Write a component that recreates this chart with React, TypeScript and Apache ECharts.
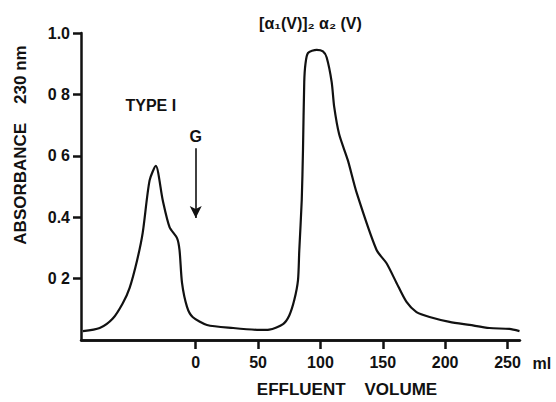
import React, { useEffect, useRef } from "react";
import * as echarts from "echarts";

// Elution profile: effluent volume (ml) vs absorbance at 230 nm
const volume = [
  -90.5, -77, -66.5, -58.5, -53, -47, -42.5, -37, -32, -26.5, -21, -15, -13, -11, -7, -2.5, 9, 30, 51,
  59, 70, 75, 79, 82, 83, 85, 86, 87, 88, 90, 97, 102, 105, 109, 111, 115, 122, 129, 145, 153, 161,
  169, 177, 187.5, 203.5, 219.5, 235.5, 251.5, 259.6,
];
const absorbance = [
  0.029, 0.039, 0.07, 0.12, 0.17, 0.26, 0.35, 0.52, 0.567, 0.456, 0.368, 0.332, 0.293, 0.186, 0.108,
  0.075, 0.049, 0.039, 0.033, 0.034, 0.052, 0.08, 0.13, 0.195, 0.29, 0.456, 0.62, 0.84, 0.9, 0.935,
  0.945, 0.94, 0.92, 0.84, 0.76, 0.67, 0.585, 0.48, 0.293, 0.25, 0.186, 0.124, 0.091, 0.075, 0.059,
  0.049, 0.039, 0.036, 0.029,
];

const xTicks = [0, 50, 100, 150, 200, 250];
const yTicks = [0.2, 0.4, 0.6, 0.8, 1.0];
const yTickLabels = ["0 2", "0.4", "0 6", "0 8", "1.0"];

// Void-volume marker "G" at 0 ml
const markerVolume = 0;
const markerTop = 0.625;
const markerBottom = 0.397;

const X_MIN = -92;
const X_MAX = 260;
const TICK_DEPTH = 0.029; // downward tick length in absorbance units (~9 px)
const FONT = "Liberation Sans";
const INK = "#111";

export default function App() {
  const ref = useRef<HTMLDivElement>(null);

  useEffect(() => {
    if (!ref.current) return;
    const chart = echarts.init(ref.current, undefined, { renderer: "svg" });
    const points = volume.map((v, i) => [v, absorbance[i]]);

    const labelFont = {
      color: INK,
      fontFamily: FONT,
      fontWeight: "bold" as const,
      fontSize: 16,
    };

    const axisStroke = { color: INK, width: 2.5, type: "solid" as const };
    const noLabel = { show: false };

    // baseline of the volume axis and its tick marks
    const baseline = [
      { coord: [X_MIN, 0], symbol: "none", lineStyle: axisStroke, label: noLabel },
      { coord: [X_MAX, 0], symbol: "none" },
    ];
    const tickMarks = xTicks.map((v) => [
      { coord: [v, 0], symbol: "none", lineStyle: axisStroke, label: noLabel },
      { coord: [v, -TICK_DEPTH], symbol: "none" },
    ]);

    chart.setOption({
      animation: false,
      backgroundColor: "#fff",
      grid: { left: 81, right: 36, top: 33, bottom: 62, containLabel: false },
      xAxis: [
        {
          type: "value",
          min: X_MIN,
          max: X_MAX,
          position: "bottom",
          axisLine: { show: false, onZero: false },
          axisTick: { show: false },
          axisLabel: { customValues: xTicks, margin: 14, ...labelFont },
          splitLine: { show: false },
        },
        {
          type: "value",
          min: X_MIN,
          max: X_MAX,
          position: "bottom",
          offset: 0,
          axisLine: { show: true, onZero: false, lineStyle: { color: INK, width: 2.5 } },
          axisTick: {
            show: true,
            customValues: xTicks,
            length: 9,
            lineStyle: { color: INK, width: 2.5 },
          },
          axisLabel: { show: false },
          splitLine: { show: false },
        },
      ],
      yAxis: {
        type: "value",
        min: 0,
        max: 1.0,
        axisLine: { show: true, onZero: false, lineStyle: { color: INK, width: 2.5 } },
        axisTick: {
          show: true,
          customValues: yTicks,
          length: 8,
          lineStyle: { color: INK, width: 2.5 },
        },
        axisLabel: {
          customValues: yTicks,
          margin: 11,
          ...labelFont,
          formatter: (v: number) => {
            const i = yTicks.findIndex((t) => Math.abs(t - v) < 1e-6);
            return i >= 0 ? yTickLabels[i] : "";
          },
        },
        splitLine: { show: false },
      },
      series: [
        {
          type: "line",
          xAxisIndex: 0,
          data: points,
          smooth: 0.25,
          showSymbol: false,
          symbol: "none",
          lineStyle: { color: INK, width: 2.2 },
          markLine: {
            silent: true,
            symbol: ["none", "arrow"],
            symbolSize: [9, 12],
            lineStyle: { color: INK, width: 1.6, type: "solid" },
            label: {
              show: true,
              position: "start",
              formatter: "G",
              ...labelFont,
              distance: 4,
            },
            data: [
              [
                { coord: [markerVolume, markerTop] },
                { coord: [markerVolume, markerBottom] },
              ],
              baseline,
              ...tickMarks,
            ],
          },
        },
      ],
    });

    const px = (x: number, y: number) =>
      chart.convertToPixel({ gridIndex: 0 }, [x, y]) as number[];
    const type1 = px(-36, 0.765);
    const peak2 = px(92, 1.03);
    const mlPos = px(250, 0);

    const textStyle = {
      fill: INK,
      fontFamily: FONT,
      fontWeight: "bold",
      fontSize: 16,
    };

    chart.setOption({
      graphic: [
        {
          type: "text",
          x: 20,
          y: 145,
          rotation: Math.PI / 2,
          style: {
            ...textStyle,
            fontSize: 17,
            text: "ABSORBANCE    230 nm",
            align: "center",
            verticalAlign: "middle",
          },
        },
        {
          type: "text",
          x: 347,
          y: 389,
          style: {
            ...textStyle,
            fontSize: 17,
            text: "EFFLUENT    VOLUME",
            align: "center",
            verticalAlign: "middle",
          },
        },
        {
          type: "text",
          x: type1[0],
          y: type1[1],
          style: { ...textStyle, text: "TYPE I", align: "center", verticalAlign: "middle" },
        },
        {
          type: "text",
          x: peak2[0],
          y: peak2[1],
          style: {
            ...textStyle,
            text: "[α₁(V)]₂ α₂ (V)",
            align: "center",
            verticalAlign: "middle",
          },
        },
        {
          type: "text",
          x: mlPos[0] + 25,
          y: mlPos[1] + 23,
          style: { ...textStyle, text: "ml", align: "left", verticalAlign: "middle" },
        },
      ],
    });

    return () => chart.dispose();
  }, []);

  return (
    <div
      ref={ref}
      style={{ position: "fixed", left: 0, top: 0, width: 556, height: 402 }}
    />
  );
}
